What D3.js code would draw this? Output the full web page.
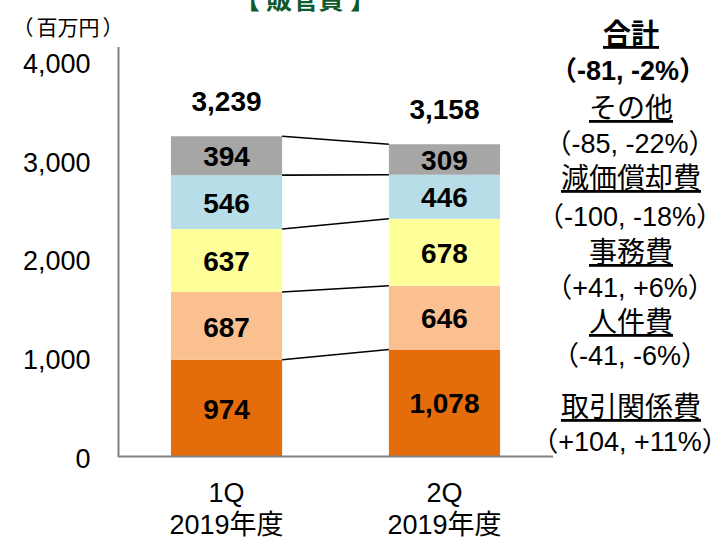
<!DOCTYPE html>
<html><head><meta charset="utf-8">
<script src="https://cdn.jsdelivr.net/npm/d3@7"></script>
<style>
html,body{margin:0;padding:0;background:#fff;}
svg{display:block;font-family:"Liberation Sans",Arial,"Noto Sans CJK JP",sans-serif;}
</style></head>
<body>
<svg id="chart" width="719" height="537"></svg>
<script>
// ---- data ----
const quarters = ["1Q", "2Q"];
const fiscalYears = ["2019年度", "2019年度"];
const seriesNames = ["取引関係費", "人件費", "事務費", "減価償却費", "その他"];
const tradeCosts = [974, 1078];
const personnelCosts = [687, 646];
const officeCosts = [637, 678];
const depreciation = [546, 446];
const otherCosts = [394, 309];
const totals = [3239, 3158];
const seriesColors = ["#E46C0A", "#FAC090", "#FFFF99", "#B7DEE8", "#A6A6A6"];
const yTicks = [0, 1000, 2000, 3000, 4000];
const totalName = "合計";
const totalChange = "-81, -2%";
const legendOrder = ["その他", "減価償却費", "事務費", "人件費", "取引関係費"];
const legendChanges = ["-85, -22%", "-100, -18%", "+41, +6%", "-41, -6%", "+104, +11%"];
const titleText = "販管費";
const unitText = "百万円";

const seriesValues = [tradeCosts, personnelCosts, officeCosts, depreciation, otherCosts];
const rows = quarters.map((q, i) => {
  const r = {q: q};
  seriesNames.forEach((s, k) => r[s] = seriesValues[k][i]);
  return r;
});

const CJK = "\"Noto Sans CJK JP\",sans-serif";
const svg = d3.select("#chart");
const x = d3.scaleBand().domain(quarters).range([118, 553]).paddingInner(0.49).paddingOuter(0.243);
const y = d3.scaleLinear().domain([0, 4000]).range([456, 61]);
const stack = d3.stack().keys(seriesNames)(rows);

function bracketed(sel, open, txt, close, gap) {
  sel.append("tspan").attr("font-family", CJK).text(open);
  sel.append("tspan").attr("dx", gap).text(txt);
  sel.append("tspan").attr("dx", gap).attr("font-family", CJK).text(close);
  return sel;
}

// title (partly cut at top)
bracketed(svg.append("text").attr("x", 305).attr("y", 9).attr("text-anchor", "middle")
  .attr("font-family", CJK)
  .attr("font-size", 26).attr("font-weight", "bold").attr("fill", "#0E5A2C"), "【", titleText, "】", 6);
// unit
bracketed(svg.append("text").attr("x", 68).attr("y", 35).attr("text-anchor", "middle")
  .attr("font-family", CJK)
  .attr("font-size", 21).attr("fill", "#000"), "（", unitText, "）", 3);

// bars
const layers = svg.append("g").selectAll("g").data(stack).join("g")
  .attr("fill", (d, i) => seriesColors[i]);
layers.selectAll("rect").data(d => d).join("rect")
  .attr("x", d => x(d.data.q))
  .attr("width", x.bandwidth())
  .attr("y", d => y(d[1]))
  .attr("height", d => y(d[0]) - y(d[1]));

// connector lines between bars
const conn = svg.append("g").attr("stroke", "#000").attr("stroke-width", 1.6);
stack.forEach(layer => {
  conn.append("line")
    .attr("x1", x(quarters[0]) + x.bandwidth()).attr("y1", y(layer[0][1]))
    .attr("x2", x(quarters[1])).attr("y2", y(layer[1][1]));
});

// value labels
const vl = svg.append("g").attr("font-size", 28).attr("font-weight", "bold").attr("text-anchor", "middle").attr("fill", "#000");
stack.forEach(layer => {
  layer.forEach((d, i) => {
    vl.append("text")
      .attr("x", x(d.data.q) + x.bandwidth() / 2)
      .attr("y", y((d[0] + d[1]) / 2))
      .attr("dy", "0.38em")
      .text(d3.format(",")(seriesValues[layer.index][i]));
  });
});
// totals
totals.forEach((t, i) => {
  vl.append("text")
    .attr("x", x(quarters[i]) + x.bandwidth() / 2)
    .attr("y", y(t) - 25)
    .text(d3.format(",")(t));
});

// y axis
const yAxis = d3.axisLeft(y).tickValues(yTicks).tickFormat(d3.format(",")).tickSize(0).tickPadding(28);
const ya = svg.append("g").attr("transform", "translate(118.5,0)").call(yAxis);
ya.select(".domain").remove();
ya.selectAll("text").attr("font-size", 27).attr("fill", "#000")
  .attr("font-family", "\"Liberation Sans\",Arial,sans-serif").attr("dy", "0.42em");
svg.append("line").attr("x1", 118.5).attr("x2", 118.5).attr("y1", 47).attr("y2", 457)
  .attr("stroke", "#808080").attr("stroke-width", 2);
svg.append("line").attr("x1", 118).attr("x2", 553).attr("y1", 456.5).attr("y2", 456.5)
  .attr("stroke", "#808080").attr("stroke-width", 2);

// category labels
const cl = svg.append("g").attr("font-size", 27).attr("text-anchor", "middle").attr("fill", "#000");
quarters.forEach((q, i) => {
  const cx = x(q) + x.bandwidth() / 2;
  cl.append("text").attr("x", cx).attr("y", 502).text(q);
  cl.append("text").attr("x", cx).attr("y", 534).text(fiscalYears[i]);
});

// right annotations
const ra = svg.append("g").attr("text-anchor", "middle").attr("fill", "#000");
ra.append("text").attr("x", 631).attr("y", 44).attr("font-size", 28).attr("font-weight", "bold")
  .attr("text-decoration", "underline").text(totalName);
bracketed(ra.append("text").attr("x", 628).attr("y", 80).attr("font-size", 27).attr("font-weight", "bold"), "（", totalChange, "）", 0);
const nameY = [118, 188, 262, 332, 417];
const changeY = [153, 226, 297, 365, 451];
legendOrder.forEach((n, i) => {
  ra.append("text").attr("x", 631).attr("y", nameY[i]).attr("font-size", 28)
    .attr("text-decoration", "underline").text(n);
  bracketed(ra.append("text").attr("x", 630).attr("y", changeY[i]).attr("font-size", 27), "（", legendChanges[i], "）", 0);
});
</script>
</body></html>
